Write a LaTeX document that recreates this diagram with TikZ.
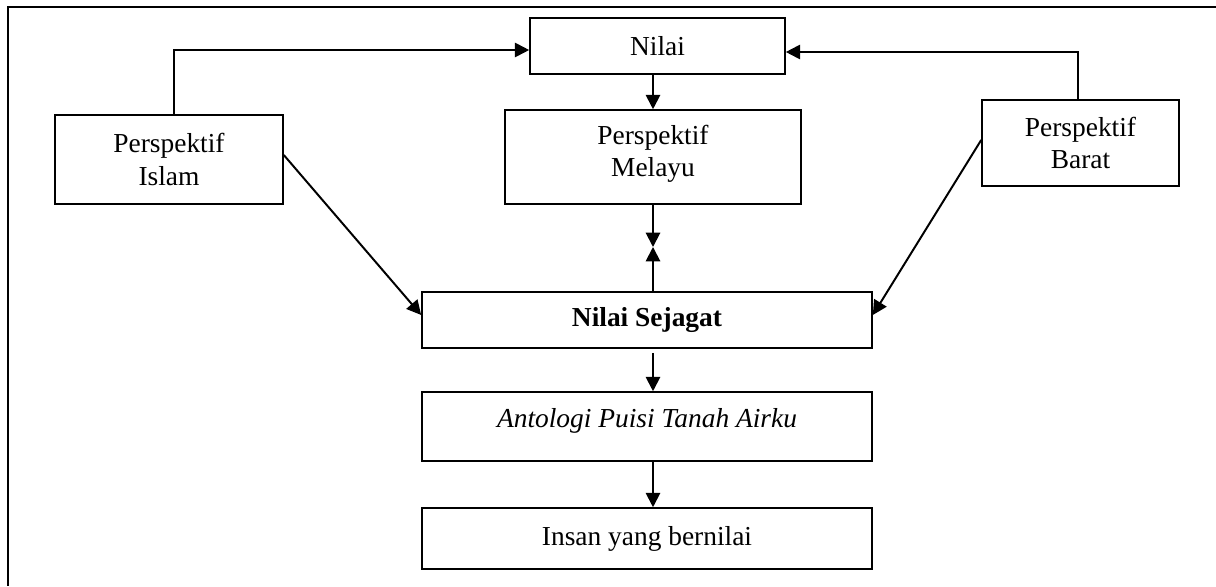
\documentclass[tikz,border=0pt]{standalone}
\usepackage{fontspec}
\setmainfont{Liberation Serif}
\usetikzlibrary{arrows.meta,positioning,calc}

\tikzset{
    box/.style={draw, line width=1.1pt, rectangle, inner sep=0pt, align=center,
        font=\fontsize{19.5}{23}\selectfont},
    flow/.style={->, line width=1.4pt},
}

\begin{document}
\begin{tikzpicture}[x=0.025cm, y=-0.025cm, >={Triangle[length=0.36cm, width=0.36cm]}]
    \useasboundingbox (0,0) rectangle (1216,586);
    % Frame
    \draw[line width=1.6pt] (1216,7) -- (8,7) -- (8,586);

    % Define nodes
    \node[box, minimum width=6.375cm, minimum height=1.4cm] (nilai) at (657.5,46) {Nilai};
    \node[box, minimum width=5.7cm, minimum height=2.225cm] (islam) at (169,159.5) {Perspektif\\Islam};
    \node[box, minimum width=7.4cm, minimum height=2.35cm, text depth=9pt] (melayu) at (653,157) {Perspektif\\Melayu};
    \node[box, minimum width=4.925cm, minimum height=2.15cm] (barat) at (1080.5,143) {Perspektif\\Barat};
    \node[box, minimum width=11.25cm, minimum height=1.4cm] (sejagat) at (647,320) {\textbf{Nilai Sejagat}};
    \node[box, minimum width=11.25cm, minimum height=1.725cm, text depth=12pt] (antologi) at (647,426.5) {\textit{Antologi Puisi Tanah Airku}};
    \node[box, minimum width=11.25cm, minimum height=1.525cm] (insan) at (647,538.5) {Insan yang bernilai};
    \coordinate (meet) at (653,247);

    % Elbow arrows into Nilai
    \draw[flow] ($(islam.north)+(5,0)$) |- ($(nilai.west)+(0,4)$);
    \draw[flow] ($(barat.north)+(-2.5,0)$) |- ($(nilai.east)+(0,6)$);

    % Straight arrows
    \draw[flow] (melayu.north |- nilai.south) -- (melayu.north);
    \draw[flow] (melayu.south) -- (meet);
    \draw[flow] (sejagat.north -| meet) -- (meet);
    \draw[flow] ($(islam.east)+(0,-4.5)$) -- ($(sejagat.west)+(0,-5)$);
    \draw[flow] ($(barat.west)+(0,-3)$) -- ($(sejagat.east)+(0,-5)$);
    \draw[flow] ($(sejagat.south -| meet)+(0,4)$) -- (antologi.north -| meet);
    \draw[flow] (antologi.south -| meet) -- (insan.north -| meet);
\end{tikzpicture}
\end{document}
